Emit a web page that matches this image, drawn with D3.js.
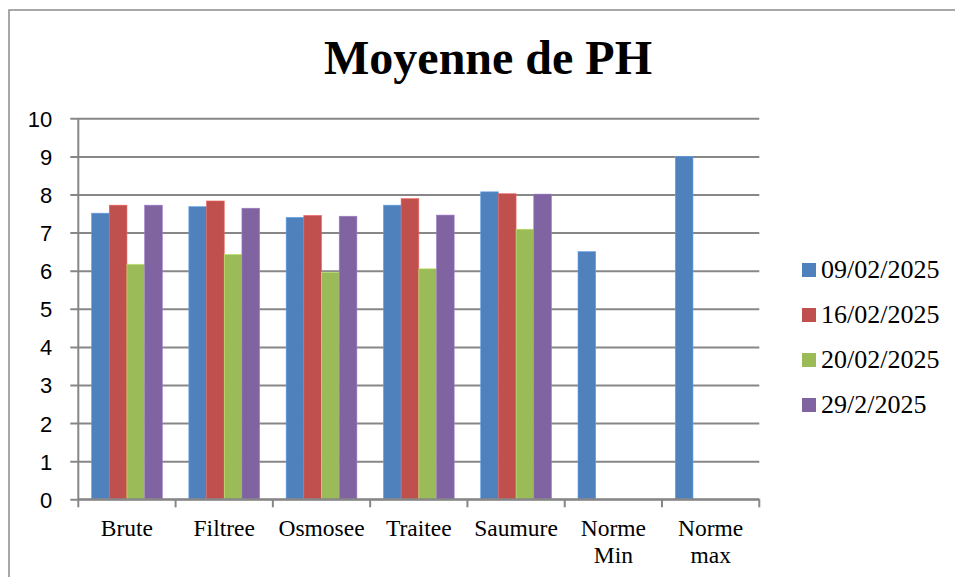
<!DOCTYPE html>
<html>
<head>
<meta charset="utf-8">
<script src="https://cdn.jsdelivr.net/npm/d3@7"></script>
<style>
  body { margin: 0; background: #fff; }
  svg { display: block; }
</style>
</head>
<body>
<div id="chart"></div>
<script>
// data
var categories = ["Brute", "Filtree", "Osmosee", "Traitee", "Saumure", "Norme Min", "Norme max"];
var seriesNames = ["09/02/2025", "16/02/2025", "20/02/2025", "29/2/2025"];
var serie1 = [7.51, 7.68, 7.40, 7.72, 8.07, 6.5, 9];
var serie2 = [7.72, 7.83, 7.45, 7.89, 8.02, null, null];
var serie3 = [6.17, 6.43, 5.96, 6.05, 7.09, null, null];
var serie4 = [7.72, 7.64, 7.43, 7.46, 8.01, null, null];
var yTicks = [0, 1, 2, 3, 4, 5, 6, 7, 8, 9, 10];

var allSeries = [serie1, serie2, serie3, serie4];
var colors = ["#4F81BD", "#C0504D", "#9BBB59", "#8064A2"];

var width = 955, height = 577;
var plotLeft = 78.3, plotRight = 759.3, plotTop = 118.3, plotBottom = 499.3;
var gridColor = "#878787";

var svg = d3.select("#chart").append("svg")
    .attr("width", width)
    .attr("height", height);

// outer frame
svg.append("rect")
    .attr("x", 9).attr("y", 10)
    .attr("width", 980).attr("height", 600)
    .attr("fill", "none")
    .attr("stroke", "#8c8c8c")
    .attr("stroke-width", 1.5);

// title
svg.append("text")
    .attr("x", 488).attr("y", 74)
    .attr("text-anchor", "middle")
    .style("font-family", "'Liberation Serif', 'Times New Roman', serif")
    .style("font-weight", "bold")
    .style("font-size", "48px")
    .text("Moyenne de PH");

var x = d3.scaleBand().domain(categories).range([plotLeft, plotRight]).padding(0);
var barW = x.bandwidth() / 5.5;
var xs = d3.scaleBand().domain(d3.range(4))
    .range([barW * 0.75, x.bandwidth() - barW * 0.75]).padding(0);
var y = d3.scaleLinear().domain([0, 10]).range([plotBottom, plotTop]);

// gridlines + y labels
var yAxis = svg.append("g")
    .attr("transform", "translate(" + plotLeft + ",0)")
    .call(d3.axisLeft(y).tickValues(yTicks).tickSize(0).tickPadding(26));
yAxis.select(".domain").remove();
yAxis.selectAll(".tick line")
    .attr("x1", -8).attr("x2", plotRight - plotLeft)
    .attr("stroke", gridColor).attr("stroke-width", 2);
yAxis.selectAll(".tick text")
    .attr("dy", "0.36em")
    .style("font-family", "'Liberation Sans', Arial, sans-serif")
    .style("font-size", "22px")
    .attr("fill", "#000");

// bars
allSeries.forEach(function (vals, s) {
    svg.append("g").selectAll("rect")
        .data(vals.map(function (v, i) { return {cat: categories[i], v: v}; })
            .filter(function (d) { return d.v !== null; }))
        .enter().append("rect")
        .attr("x", function (d) { return x(d.cat) + xs(s); })
        .attr("y", function (d) { return y(d.v); })
        .attr("width", xs.bandwidth())
        .attr("height", function (d) { return plotBottom - y(d.v); })
        .attr("fill", colors[s])
        .attr("stroke", d3.color(colors[s]).brighter(0.6))
        .attr("stroke-width", 0.6);
});

// y axis line
svg.append("line")
    .attr("x1", plotLeft).attr("x2", plotLeft)
    .attr("y1", plotTop).attr("y2", plotBottom)
    .attr("stroke", gridColor).attr("stroke-width", 2);

// x axis line + ticks at category borders
svg.append("line")
    .attr("x1", plotLeft).attr("x2", plotRight)
    .attr("y1", plotBottom).attr("y2", plotBottom)
    .attr("stroke", gridColor).attr("stroke-width", 2);
var borders = categories.map(function (c) { return x(c); }).concat([plotRight]);
svg.append("g").selectAll("line")
    .data(borders).enter().append("line")
    .attr("x1", function (d) { return d; }).attr("x2", function (d) { return d; })
    .attr("y1", plotBottom).attr("y2", plotBottom + 8)
    .attr("stroke", gridColor).attr("stroke-width", 2);

// x labels (wrap on space for the two norm labels)
svg.append("g").selectAll("text")
    .data(categories).enter().append("text")
    .attr("x", function (d) { return x(d) + x.bandwidth() / 2; })
    .attr("y", 536)
    .attr("text-anchor", "middle")
    .style("font-family", "'Liberation Serif', 'Times New Roman', serif")
    .style("font-size", "23.5px")
    .each(function (d) {
        var parts = d.split(" ");
        var t = d3.select(this);
        parts.forEach(function (p, i) {
            t.append("tspan")
                .attr("x", x(d) + x.bandwidth() / 2)
                .attr("dy", i === 0 ? 0 : 27)
                .text(p);
        });
    });

// legend
var legend = svg.append("g").attr("transform", "translate(802,263)");
var rows = legend.selectAll("g")
    .data(seriesNames).enter().append("g")
    .attr("transform", function (d, i) { return "translate(0," + (i * 45) + ")"; });
rows.append("rect")
    .attr("width", 14).attr("height", 14)
    .attr("fill", function (d, i) { return colors[i]; });
rows.append("text")
    .attr("x", 19).attr("y", 15)
    .style("font-family", "'Liberation Serif', 'Times New Roman', serif")
    .style("font-size", "26px")
    .text(function (d) { return d; });
</script>
</body>
</html>
